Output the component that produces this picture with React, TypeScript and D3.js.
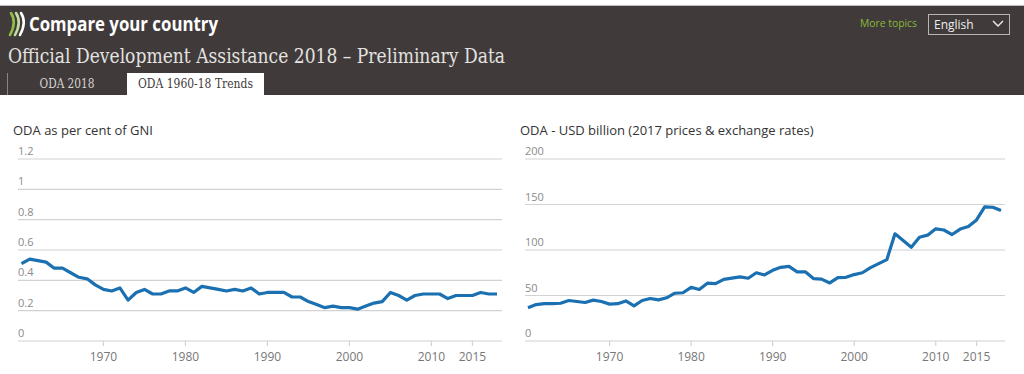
import * as d3 from "d3";

// years 1960..2018
const years: number[] = d3.range(1960, 2019);

// ODA as % of GNI (DAC total)
const odaGni: number[] = [
  0.51, 0.54, 0.53, 0.52, 0.48, 0.48, 0.45, 0.42, 0.41, 0.37,
  0.34, 0.33, 0.35, 0.27, 0.32, 0.34, 0.31, 0.31, 0.33, 0.33,
  0.35, 0.32, 0.36, 0.35, 0.34, 0.33, 0.34, 0.33, 0.35, 0.31,
  0.32, 0.32, 0.32, 0.29, 0.29, 0.26, 0.24, 0.22, 0.23, 0.22,
  0.22, 0.21, 0.23, 0.25, 0.26, 0.32, 0.30, 0.27, 0.30, 0.31,
  0.31, 0.31, 0.28, 0.30, 0.30, 0.30, 0.32, 0.31, 0.31,
];

// ODA in USD billion, 2017 prices
const odaUsd: number[] = [
  36.5, 40, 41, 41, 41.5, 44.5, 43.4, 42.3, 44.9, 43.4,
  40.5, 41, 44, 38.6, 44.5, 46.7, 45.2, 47.5, 52.5, 53,
  59, 56.6, 63.5, 63, 67.8, 69, 70.4, 69, 75, 72.6,
  77.7, 81, 82, 76, 76, 68.6, 68, 63.8, 69.7, 70,
  73, 75, 80.6, 85, 89.4, 117.8, 110.5, 103, 114, 116.3,
  123.3, 122, 117, 123, 125.8, 133, 147.3, 147, 143.3,
];

const gniTicks = [0, 0.2, 0.4, 0.6, 0.8, 1, 1.2];
const usdTicks = [0, 50, 100, 150, 200];
const yearTicks = [1970, 1980, 1990, 2000, 2010, 2015];

const lineColor = "#1a70b0";
const gridColor = "#d2d2d2";
const labelColor = "#8a8a8a";
const sans = "'Open Sans', 'Noto Sans', sans-serif";

interface PanelProps {
  title: string;
  values: number[];
  ticks: number[];
  x0: number;
  x1: number;
  gridX0: number;
  gridX1: number;
  titleX: number;
}

function Panel({ title, values, ticks, x0, x1, gridX0, gridX1, titleX }: PanelProps) {
  const x = d3.scaleLinear().domain([1960, 2018]).range([x0, x1]);
  const y = d3
    .scaleLinear()
    .domain([0, ticks[ticks.length - 1]])
    .range([341, 159]);

  const line = d3
    .line<number>()
    .x((_, i) => x(years[i]))
    .y((d) => y(d))
    .curve(d3.curveLinear);

  return (
    <g>
      <text x={titleX} y={135} fontSize="13" fill="#333" fontFamily={sans}>
        {title}
      </text>
      {ticks.map((t) => (
        <g key={t}>
          <line
            x1={gridX0}
            x2={gridX1}
            y1={y(t)}
            y2={y(t)}
            stroke={gridColor}
            strokeWidth={1.2}
          />
          <text
            x={gridX0}
            y={y(t) - 4}
            fontSize="11"
            fill={labelColor}
            fontFamily={sans}
          >
            {t}
          </text>
        </g>
      ))}
      {yearTicks.map((yr) => (
        <g key={yr}>
          <line
            x1={x(yr)}
            x2={x(yr)}
            y1={341}
            y2={346}
            stroke={gridColor}
            strokeWidth={1.2}
          />
          <text
            x={x(yr)}
            y={361}
            fontSize="12"
            textAnchor="middle"
            fill="#777"
            fontFamily={sans}
          >
            {yr}
          </text>
        </g>
      ))}
      <path
        d={line(values) ?? ""}
        fill="none"
        stroke={lineColor}
        strokeWidth={3.2}
        strokeLinejoin="round"
      />
    </g>
  );
}

export default function App() {
  return (
    <svg
      width={1024}
      height={374}
      style={{ position: "absolute", left: 0, top: 0, background: "#fff" }}
    >
      {/* header band */}
      <rect x={0} y={0} width={1024} height={5} fill="#fff" />
      <rect x={0} y={5} width={1024} height={1} fill="#bdbdbd" />
      <rect x={0} y={6} width={1024} height={89} fill="#403b3a" />

      {/* logo */}
      <g fill="none" strokeLinecap="round" strokeWidth={2.6}>
        <path d="M11 13 Q17 22 10 35" stroke="#8fbf4a" />
        <path d="M16 13 Q22 22 15 35" stroke="#c6dca0" />
        <path d="M21 13 Q27 22 20 35" stroke="#ffffff" />
      </g>
      <text
        x={29}
        y={31}
        fontSize="19"
        fontWeight="bold"
        fill="#fff"
        fontFamily={sans}
        textLength={189}
        lengthAdjust="spacingAndGlyphs"
      >
        Compare your country
      </text>
      <text
        x={8}
        y={63}
        fontSize="20"
        fill="#e4e2e0"
        fontFamily="'DejaVu Serif', serif"
        textLength={497}
        lengthAdjust="spacingAndGlyphs"
      >
        Official Development Assistance 2018 – Preliminary Data
      </text>

      {/* right controls */}
      <text
        x={860}
        y={27}
        fontSize="11.5"
        fill="#8ab73a"
        fontFamily={sans}
        textLength={57}
        lengthAdjust="spacingAndGlyphs"
      >
        More topics
      </text>
      <rect x={928.5} y={14.5} width={81} height={20} fill="none" stroke="#b8b6b4" />
      <text x={934} y={29} fontSize="12" fill="#eee" fontFamily={sans}>
        English
      </text>
      <path d="M993 21 L998 26 L1003 21" fill="none" stroke="#eee" strokeWidth={1.4} />

      {/* tabs */}
      <rect x={7} y={73} width={1} height={22} fill="#8a8584" />
      <text
        x={67}
        y={88}
        fontSize="12"
        textAnchor="middle"
        fill="#d8d4d2"
        fontFamily="'DejaVu Serif', serif"
        textLength={55}
        lengthAdjust="spacingAndGlyphs"
      >
        ODA 2018
      </text>
      <rect x={127} y={73} width={137} height={22} fill="#fff" />
      <text
        x={195.5}
        y={88}
        fontSize="12"
        textAnchor="middle"
        fill="#403b3a"
        fontFamily="'DejaVu Serif', serif"
        textLength={115}
        lengthAdjust="spacingAndGlyphs"
      >
        ODA 1960-18 Trends
      </text>

      <Panel
        title="ODA as per cent of GNI"
        values={odaGni}
        ticks={gniTicks}
        x0={21.5}
        x1={497}
        gridX0={18}
        gridX1={502}
        titleX={13}
      />
      <Panel
        title="ODA - USD billion (2017 prices & exchange rates)"
        values={odaUsd}
        ticks={usdTicks}
        x0={528}
        x1={1001}
        gridX0={525}
        gridX1={1005}
        titleX={520}
      />
    </svg>
  );
}
